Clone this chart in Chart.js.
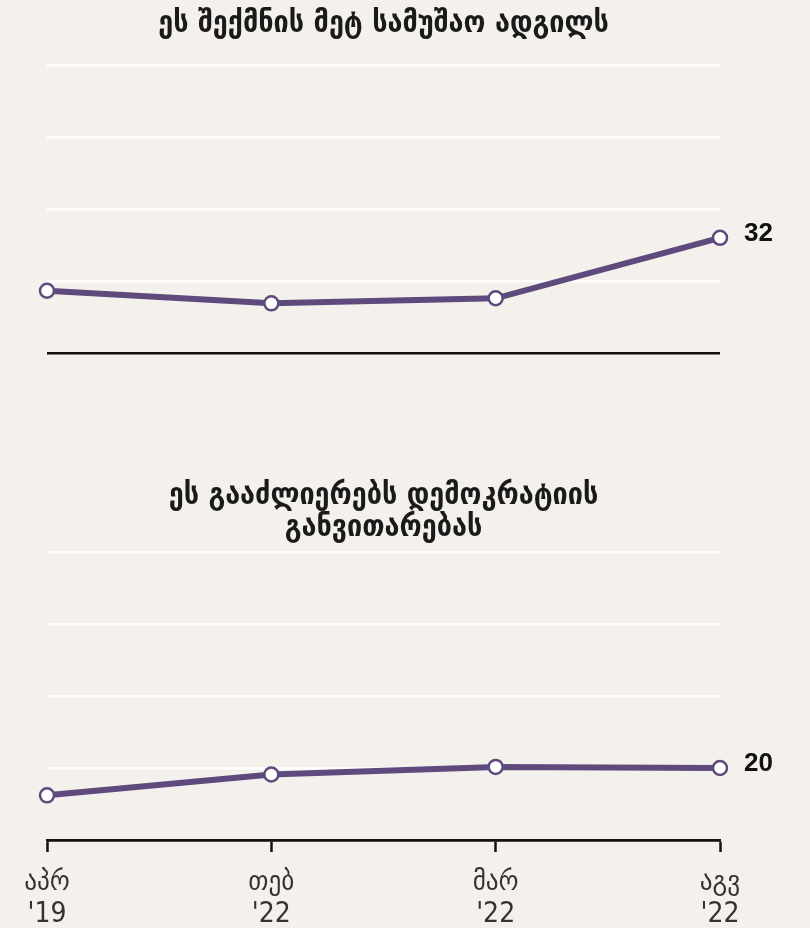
<!DOCTYPE html>
<html>
<head>
<meta charset="utf-8">
<script src="https://cdn.jsdelivr.net/npm/chart.js@4.4.0/dist/chart.umd.min.js"></script>
<style>
  body { margin: 0; background: #f4f1ec; }
  .wrap { position: relative; width: 810px; height: 928px; overflow: hidden; }
  #top-chart { position: absolute; left: 0; top: 0; }
  #bottom-chart { position: absolute; left: 0; top: 460px; }
</style>
</head>
<body>
<div class="wrap">
  <canvas id="top-chart" width="810" height="380"></canvas>
  <canvas id="bottom-chart" width="810" height="486"></canvas>
</div>
<script>
// data
const periods = [['აპრ', "'19"], ['თებ', "'22"], ['მარ', "'22"], ['აგვ', "'22"]];
const jobsValues = [17.3, 13.8, 15.2, 32];
const democracyValues = [12.4, 18.2, 20.3, 20];
const jobsTitle = 'ეს შექმნის მეტ სამუშაო ადგილს';
const democracyTitle = ['ეს გააძლიერებს დემოკრატიის', 'განვითარებას'];
const yTicks = [0, 20, 40, 60, 80];

const PURPLE = '#5e4a7d';
const FONT = "'DejaVu Sans Condensed', 'DejaVu Sans', sans-serif";

// writes the last value next to the last point
const endLabel = {
  id: 'endLabel',
  afterDatasetsDraw(chart) {
    const meta = chart.getDatasetMeta(0);
    const last = meta.data[meta.data.length - 1];
    const data = chart.data.datasets[0].data;
    const ctx = chart.ctx;
    ctx.save();
    ctx.font = "bold 26px 'Liberation Sans', Arial, sans-serif";
    ctx.fillStyle = '#111';
    ctx.textAlign = 'left';
    ctx.textBaseline = 'middle';
    ctx.fillText(Math.round(data[data.length - 1]), last.x + 24, last.y - 4);
    ctx.restore();
  }
};

function lineDataset(values) {
  return {
    data: values,
    borderColor: PURPLE,
    borderWidth: 6,
    pointRadius: 7,
    pointBorderWidth: 2.5,
    pointBackgroundColor: '#fff',
    pointBorderColor: PURPLE,
    tension: 0,
    clip: false
  };
}

function yScale() {
  return {
    min: yTicks[0],
    max: yTicks[yTicks.length - 1],
    afterBuildTicks: scale => { scale.ticks = yTicks.map(v => ({ value: v })); },
    ticks: { display: false },
    border: { display: false },
    grid: {
      drawTicks: false,
      color: c => c.tick.value === 0 ? '#111' : '#ffffff',
      lineWidth: 2.5
    }
  };
}

function titleOpts(text, top, bottom) {
  return {
    display: true,
    text: text,
    color: '#1a1a1a',
    font: { family: FONT, size: 30, weight: 'bold', lineHeight: 32 / 30 },
    padding: { top: top, bottom: bottom }
  };
}

new Chart(document.getElementById('top-chart'), {
  type: 'line',
  data: {
    labels: periods,
    datasets: [lineDataset(jobsValues)]
  },
  options: {
    responsive: false,
    animation: false,
    layout: { autoPadding: false, padding: { left: 47, right: 90, bottom: 27 } },
    plugins: {
      legend: { display: false },
      tooltip: { enabled: false },
      title: titleOpts(jobsTitle, 8, 25)
    },
    scales: {
      x: { display: false, offset: false },
      y: yScale()
    }
  },
  plugins: [endLabel]
});

new Chart(document.getElementById('bottom-chart'), {
  type: 'line',
  data: {
    labels: periods,
    datasets: [lineDataset(democracyValues)]
  },
  options: {
    responsive: false,
    animation: false,
    layout: { autoPadding: false, padding: { left: 47, right: 90, bottom: 0 } },
    plugins: {
      legend: { display: false },
      tooltip: { enabled: false },
      title: titleOpts(democracyTitle, 20, 8)
    },
    scales: {
      x: {
        offset: false,
        border: { display: true, color: '#111', width: 2.5 },
        grid: {
          drawOnChartArea: false,
          drawTicks: true,
          tickLength: 12,
          tickColor: '#111',
          tickWidth: 2.5
        },
        ticks: {
          color: '#333',
          padding: 15,
          maxRotation: 0,
          autoSkip: false,
          font: { family: FONT, size: 28, lineHeight: 32 / 28 }
        }
      },
      y: yScale()
    }
  },
  plugins: [endLabel]
});
</script>
</body>
</html>
